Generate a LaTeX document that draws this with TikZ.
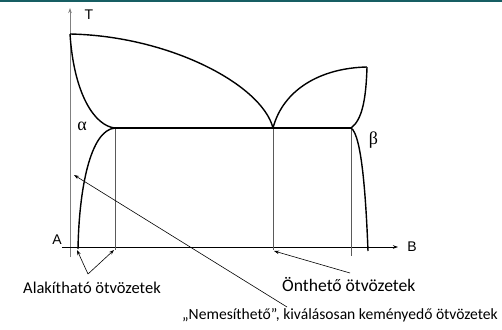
\documentclass[tikz,border=0pt]{standalone}
\usepackage{fontspec}
\setmainfont{Carlito}
\newfontfamily\arialf{Liberation Sans}
\newfontfamily\timesf{Liberation Serif}
\usetikzlibrary{arrows.meta}
\definecolor{barteal}{RGB}{22,94,99}
\definecolor{axisgray}{RGB}{128,128,128}
\definecolor{vgray}{RGB}{90,90,90}
\tikzset{
  curve/.style={black, line width=1.4pt},
  vline/.style={vgray, line width=0.9pt},
  axisline/.style={line width=0.8pt},
  pointer/.style={black, line width=0.6pt, -{Stealth[length=5pt,width=3.5pt]}},
  lbl/.style={inner sep=0pt},
  axlbl/.style={font=\arialf\fontsize{14}{15}\selectfont, inner sep=0pt},
  phase/.style={font=\timesf\fontsize{18}{18}\selectfont, inner sep=0pt}
}
\begin{document}
\begin{tikzpicture}[x=1pt,y=-1pt]
\useasboundingbox (0,0) rectangle (502,329);
\fill[barteal] (0,0) rectangle (502,2.5);
% key points
\coordinate (TA) at (70,34);
\coordinate (EL) at (115,128);
\coordinate (E) at (273,128);
\coordinate (ER) at (351,128);
\coordinate (TB) at (367,67);
\coordinate (AB) at (78,249);
\coordinate (BB) at (368,251);
% axes
\coordinate (yb) at (70,257);
\coordinate (yt) at (70,8);
\coordinate (xl) at (62,247);
\coordinate (xr) at (398,247);
\draw[axisgray, line width=0.9pt] (yb) -- (TA);
\draw[axisline, axisgray, -{Stealth[length=5pt,width=3.5pt]}] (TA) -- (yt);
\draw[axisline, -{Stealth[length=5pt,width=3.5pt]}] (xl) -- (xr);
\node[axlbl] (T) at (89,15) {T};
\node[axlbl] (A) at (57,240) {A};
\node[axlbl] (B) at (412,247) {B};
% vertical lines
\coordinate (v1) at (115,250);
\coordinate (v2) at (273,250);
\coordinate (v3) at (351,256);
\draw[vline] (EL) -- (v1);
\draw[vline] (E) -- (v2);
\draw[vline] (ER) -- (v3);
% curves
\draw[curve] (TA) .. controls (170,36) and (262,85) .. (E);
\draw[curve] (E) .. controls (283,90) and (320,68) .. (TB);
\draw[curve] (TB) .. controls (366,100) and (362,120) .. (ER);
\draw[curve] (TA) .. controls (74,95) and (95,126) .. (EL);
\draw[curve] (EL) -- (ER);
\draw[curve] (EL) .. controls (90,130) and (79,190) .. (AB);
\draw[curve] (ER) .. controls (362,135) and (366,200) .. (BB);
\node[phase] (alpha) at (82,126.5) {α};
\node[phase] (beta) at (373.5,140) {β};
% labels
\node[lbl, anchor=base west, font=\fontsize{16.5}{18}\selectfont] (alak) at (23,293) {Alakítható ötvözetek};
\node[lbl, anchor=base west, font=\fontsize{17.6}{18}\selectfont] (onth) at (282,291) {Önthető ötvözetek};
\node[lbl, anchor=base east, font=\fontsize{15.6}{18}\selectfont] (nemes) at (498,319) {„Nemesíthető”, kiválásosan keményedő ötvözetek};
\coordinate (a1) at (88,274);
\coordinate (a1t) at (77,250);
\coordinate (a2t) at (114,250);
\coordinate (o1) at (350,273);
\coordinate (o1t) at (274,251);
\coordinate (n1) at (287,307);
\coordinate (n1t) at (74,175);
\draw[pointer] (a1) -- (a1t);
\draw[pointer] (a1) -- (a2t);
\draw[pointer] (o1) -- (o1t);
\draw[pointer] (n1) -- (n1t);
\end{tikzpicture}
\end{document}
